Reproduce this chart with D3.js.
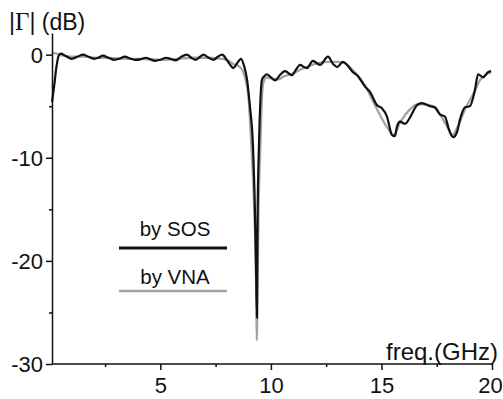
<!DOCTYPE html>
<html><head><meta charset="utf-8">
<script src="https://cdn.jsdelivr.net/npm/d3@7/dist/d3.min.js"></script>
<style>body{margin:0;background:#fff}svg{display:block}text{font-family:"Liberation Sans",Arial,sans-serif;fill:#111}</style>
</head><body><svg id="c" width="503" height="399"></svg>
<script>
const sosFreq = [0.1,0.2,0.3,0.4,0.5,0.7,1.0,1.25,1.5,1.75,2.0,2.2,2.4,2.65,2.9,3.15,3.4,3.6,3.85,4.1,4.35,4.55,4.75,5.0,5.25,5.45,5.7,5.95,6.2,6.4,6.6,6.8,6.95,7.15,7.4,7.6,7.8,8.0,8.2,8.3,8.45,8.65,8.8,8.92,9.05,9.19,9.28,9.33,9.37,9.385,9.40,9.46,9.6,9.7,9.82,9.95,10.19,10.4,10.64,10.8,10.95,11.15,11.32,11.5,11.63,11.9,12.22,12.58,12.81,13.0,13.26,13.45,13.67,13.94,14.26,14.48,14.8,15.02,15.25,15.48,15.61,15.7,15.84,16.07,16.29,16.61,16.83,17.2,17.42,17.65,17.87,18.06,18.24,18.42,18.55,18.78,19.0,19.23,19.37,19.6,19.82,19.96];
const sosDb = [-4.6,-3.0,-1.2,-0.1,0.1,-0.1,-0.4,-0.2,0.0,-0.2,-0.4,-0.3,-0.1,-0.3,-0.5,-0.4,-0.2,-0.35,-0.5,-0.45,-0.3,-0.45,-0.6,-0.5,-0.3,-0.4,-0.55,-0.2,0.0,-0.3,-0.5,-0.2,0.0,-0.25,-0.5,-0.2,0.0,-0.5,-1.1,-1.3,-0.9,-0.4,-1.2,-2.4,-5.0,-8.9,-15.3,-21.0,-25.5,-20.0,-15.3,-8.9,-2.4,-2.1,-1.9,-2.1,-2.5,-2.0,-1.6,-1.8,-2.0,-1.4,-1.0,-1.2,-1.3,-0.6,-1.0,-0.2,-0.9,-1.2,-0.7,-1.0,-1.6,-2.1,-3.1,-3.6,-4.9,-5.2,-6.0,-7.8,-7.9,-7.0,-6.5,-6.7,-6.1,-4.9,-4.7,-5.0,-5.1,-5.8,-6.0,-7.3,-8.0,-7.5,-6.3,-5.1,-5.0,-3.4,-1.9,-2.2,-1.7,-1.6];
const vnaFreq = [0.1,0.3,0.6,1.0,1.5,2.0,2.5,3.0,3.5,4.0,4.5,5.0,5.5,6.0,6.5,7.0,7.5,8.0,8.3,8.6,8.85,9.0,9.12,9.25,9.33,9.36,9.40,9.44,9.52,9.58,9.65,9.8,10.0,10.3,10.6,11.0,11.5,12.0,12.5,13.0,13.3,13.7,14.26,14.8,15.3,15.55,15.84,16.29,16.65,17.2,17.65,18.0,18.2,18.45,18.78,19.23,19.45,19.96];
const vnaDb = [0.2,0.1,-0.1,-0.2,-0.2,-0.3,-0.3,-0.35,-0.4,-0.4,-0.45,-0.5,-0.45,-0.35,-0.3,-0.3,-0.35,-0.5,-0.9,-1.2,-2.4,-4.5,-8.9,-15.3,-22.0,-27.7,-22.0,-15.3,-8.9,-5.0,-2.8,-2.2,-2.3,-2.4,-2.1,-1.8,-1.3,-0.9,-0.7,-0.7,-0.8,-1.5,-3.0,-5.3,-7.2,-7.8,-6.6,-5.3,-4.8,-4.9,-5.8,-7.1,-7.8,-7.0,-5.3,-3.5,-2.5,-1.7];
const xTicks = [5,10,15,20];
const xMinor = [2.5,7.5,12.5,17.5];
const yTicks = [0,-10,-20,-30];
const yMinor = [-5,-15,-25];
const legendLabels = ["by SOS","by VNA"];

const svg = d3.select("#c");
const x = d3.scaleLinear().domain([0.1,20]).range([52,492]);
const y = d3.scaleLinear().domain([-30,2.1]).range([364,33]);

const line = d3.line().x(d=>x(d[0])).y(d=>y(d[1])).curve(d3.curveMonotoneX);
const vna = vnaFreq.map((f,i)=>[f,vnaDb[i]]);
const sos = sosFreq.map((f,i)=>[f,sosDb[i]]);
svg.append("path").attr("d",line(vna)).attr("fill","none").attr("stroke","#a3a3a3").attr("stroke-width",2.3);
svg.append("path").attr("d",line(sos)).attr("fill","none").attr("stroke","#111").attr("stroke-width",2.2);

const fmt = d => String(d).replace("\u2212","-");
// axes
const ax = svg.append("g").attr("transform","translate(0,364)");
ax.call(d3.axisBottom(x).tickValues(xTicks).tickSize(6).tickSizeOuter(0).tickFormat(fmt));
const axm = svg.append("g").attr("transform","translate(0,364)");
axm.call(d3.axisBottom(x).tickValues(xMinor).tickSize(3).tickSizeOuter(0).tickFormat(""));
axm.select(".domain").remove();
ax.selectAll("text").attr("font-size",22).attr("dy",0).attr("y",29).attr("font-family","Liberation Sans, Arial").attr("fill","#111");
ax.selectAll("text").filter(d=>d===20).attr("dx",-2);
const ay = svg.append("g").attr("transform","translate(52,0)");
ay.call(d3.axisLeft(y).tickValues(yTicks).tickSize(6).tickSizeOuter(0).tickFormat(fmt));
const aym = svg.append("g").attr("transform","translate(52,0)");
aym.call(d3.axisLeft(y).tickValues(yMinor).tickSize(3).tickSizeOuter(0).tickFormat(""));
aym.select(".domain").remove();
ay.selectAll("text").attr("font-size",22).attr("x",-9).attr("dy","0.35em").attr("font-family","Liberation Sans, Arial").attr("fill","#111");
svg.selectAll(".domain,.tick line").attr("stroke","#111").attr("stroke-width",1.5);
ax.select(".domain").attr("d","M52,0H492");

// titles
const t = svg.append("text").attr("x",9).attr("y",30).attr("font-size",23);
t.append("tspan").text("|");
t.append("tspan").attr("font-family","Liberation Serif, Times New Roman, serif").attr("font-size",25).text("Γ");
t.append("tspan").text("| (dB)");
svg.append("text").attr("x",498).attr("y",360).attr("text-anchor","end").attr("font-size",24).text("freq.(GHz)");

// legend
const lg = [{y:236,ly:248,c:"#111",w:2.8},{y:284,ly:291,c:"#a3a3a3",w:2.4}];
lg.forEach((d,i)=>{
  svg.append("text").attr("x",175).attr("y",d.y).attr("text-anchor","middle").attr("font-size",20.5).text(legendLabels[i]);
  svg.append("line").attr("x1",119).attr("x2",227).attr("y1",d.ly).attr("y2",d.ly).attr("stroke",d.c).attr("stroke-width",d.w);
});
</script></body></html>
